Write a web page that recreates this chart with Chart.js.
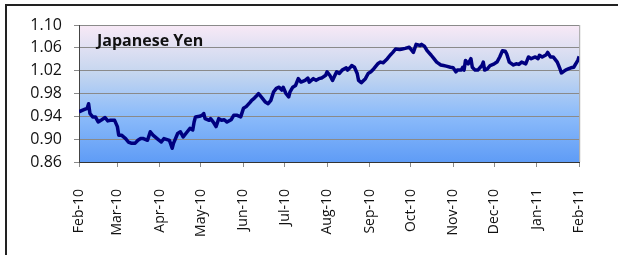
<!DOCTYPE html>
<html>
<head>
<meta charset="utf-8">
<script src="https://cdn.jsdelivr.net/npm/chart.js@4"></script>
<style>
  body { margin: 0; background: #fff; overflow: hidden; }
  #frame { position: absolute; left: 5px; top: 4px; width: 800px; height: 400px; border: 2px solid #222; }
  #yenChart { position: absolute; left: 0; top: 0; }
</style>
</head>
<body>
<div id="frame"></div>
<canvas id="yenChart" width="618" height="255"></canvas>
<script>
// hari sejak 1 Feb 2010 dan nilai kurs
var days = [0, 4, 6, 7, 8, 10, 12, 14, 16, 19, 21, 23, 26, 28, 29, 31, 34, 36, 38, 41, 43, 45, 47, 50, 52, 54, 57, 60, 62,
  66, 68, 69, 72, 74, 76, 79, 81, 83, 84, 85, 88, 90, 91, 92, 95, 96, 98, 100, 102, 104, 106, 108, 111, 113, 115, 118, 120, 122, 125,
  126, 128, 130, 131, 134, 136, 138, 140, 142, 144, 146, 148, 149, 151, 153, 154, 156, 158, 160, 162, 165, 167, 168, 171, 173, 175, 177, 180, 181, 183,
  185, 188, 190, 192, 195, 196, 198, 199, 201, 203, 204, 206, 209, 211, 213, 215, 218, 220, 222, 225, 227, 229, 231, 234, 236, 238, 241, 243, 244, 246, 249,
  250, 252, 254, 257, 259, 261, 264, 266, 268, 271, 273, 275, 276, 279, 280, 281, 282, 284, 286, 287, 289, 291, 294, 295, 296, 298, 300, 303, 305, 307, 309, 311,
  312, 314, 317, 319, 321, 323, 326, 328, 330, 333, 335, 336, 338, 341, 342, 344, 346, 349, 351, 352, 355, 357, 359, 361, 364, 365];
var yen = [0.948, 0.952, 0.954, 0.962, 0.945, 0.939, 0.939, 0.930, 0.933, 0.938, 0.932, 0.933, 0.933, 0.922, 0.907, 0.907, 0.901, 0.895, 0.893, 0.893, 0.898, 0.901, 0.901, 0.898, 0.913, 0.907, 0.901, 0.895, 0.901,
  0.898, 0.884, 0.893, 0.910, 0.913, 0.904, 0.913, 0.919, 0.916, 0.930, 0.939, 0.940, 0.942, 0.945, 0.936, 0.933, 0.936, 0.930, 0.922, 0.936, 0.933, 0.934, 0.930, 0.934, 0.942, 0.942, 0.939, 0.954, 0.957, 0.965,
  0.968, 0.972, 0.977, 0.980, 0.971, 0.965, 0.962, 0.968, 0.983, 0.989, 0.991, 0.986, 0.991, 0.980, 0.974, 0.983, 0.991, 0.994, 1.006, 1.000, 1.003, 1.007, 1.000, 1.006, 1.003, 1.006, 1.007, 1.012, 1.018, 1.012,
  1.003, 1.018, 1.015, 1.021, 1.025, 1.021, 1.026, 1.029, 1.026, 1.015, 1.003, 0.999, 1.006, 1.015, 1.018, 1.023, 1.032, 1.035, 1.034, 1.041, 1.047, 1.052, 1.058, 1.057, 1.058, 1.059, 1.061, 1.055, 1.052, 1.066, 1.064,
  1.066, 1.063, 1.055, 1.047, 1.041, 1.035, 1.030, 1.029, 1.028, 1.026, 1.025, 1.018, 1.021, 1.021, 1.026, 1.021, 1.038, 1.032, 1.041, 1.026, 1.021, 1.021, 1.029, 1.035, 1.021, 1.023, 1.029, 1.032, 1.035, 1.044, 1.055, 1.054,
  1.050, 1.035, 1.030, 1.032, 1.031, 1.035, 1.032, 1.044, 1.041, 1.044, 1.041, 1.047, 1.044, 1.048, 1.052, 1.044, 1.044, 1.035, 1.023, 1.016, 1.021, 1.023, 1.025, 1.026, 1.038, 1.045];

// label bulan di sumbu x
var monthDays = [0, 28, 59, 89, 120, 150, 181, 212, 242, 273, 303, 334, 365];
var monthLabels = ['Feb-10', 'Mar-10', 'Apr-10', 'May-10', 'Jun-10', 'Jul-10', 'Aug-10', 'Sep-10', 'Oct-10', 'Nov-10', 'Dec-10', 'Jan-11', 'Feb-11'];
var yTicks = [0.86, 0.90, 0.94, 0.98, 1.02, 1.06, 1.10];

var points = days.map(function (d, i) { return { x: d, y: yen[i] }; });

// latar gradasi + judul di dalam area plot
var plotDeco = {
  id: 'plotDeco',
  beforeDraw: function (chart) {
    var a = chart.chartArea, c = chart.ctx;
    var g = c.createLinearGradient(0, a.top, 0, a.bottom);
    g.addColorStop(0, '#f8e9f6');
    g.addColorStop(0.35, '#c5d6ef');
    g.addColorStop(0.65, '#8dbcfa');
    g.addColorStop(1, '#5f9cf6');
    c.save();
    c.fillStyle = g;
    c.fillRect(a.left, a.top, a.right - a.left, a.bottom - a.top);
    c.restore();
  },
  beforeDatasetsDraw: function (chart) {
    var a = chart.chartArea, c = chart.ctx;
    c.save();
    c.strokeStyle = '#a0a0a0';
    c.lineWidth = 1;
    c.beginPath();
    c.moveTo(a.right + 0.5, a.top);
    c.lineTo(a.right + 0.5, a.bottom);
    c.stroke();
    c.fillStyle = '#111';
    c.font = 'bold 16px "Open Sans"';
    c.textBaseline = 'alphabetic';
    c.fillText('Japanese Yen', a.left + 18, a.top + 21);
    c.restore();
  }
};

var ctx = document.getElementById('yenChart').getContext('2d');
var myChart = new Chart(ctx, {
  type: 'line',
  data: {
    datasets: [{
      label: 'Japanese Yen',
      data: points,
      borderColor: '#000080',
      borderWidth: 3.5,
      borderJoinStyle: 'round',
      pointRadius: 0,
      tension: 0,
      fill: false
    }]
  },
  options: {
    responsive: false,
    animation: false,
    devicePixelRatio: 1,
    layout: { padding: { left: 0, top: 25, right: 9, bottom: 0 } },
    plugins: { legend: { display: false }, tooltip: { enabled: false } },
    scales: {
      x: {
        type: 'linear',
        min: 0,
        max: 365,
        afterBuildTicks: function (s) { s.ticks = monthDays.map(function (v) { return { value: v }; }); },
        afterFit: function (s) { s.height = 93; },
        grid: { drawOnChartArea: false, drawTicks: true, tickLength: 5, color: '#8a8a8a' },
        border: { color: '#333', width: 1 },
        ticks: {
          autoSkip: false,
          minRotation: 90,
          maxRotation: 90,
          padding: 22,
          color: '#111',
          font: { family: 'Open Sans', size: 14 },
          callback: function (v, i) { return monthLabels[i]; }
        }
      },
      y: {
        min: 0.86,
        max: 1.10,
        afterBuildTicks: function (s) { s.ticks = yTicks.map(function (v) { return { value: v }; }); },
        afterFit: function (s) { s.width = 79; },
        grid: { color: '#8a8a8a', tickLength: 5, drawTicks: true },
        border: { color: '#444', width: 1 },
        ticks: {
          padding: 12,
          color: '#111',
          font: { family: 'Open Sans', size: 16 },
          callback: function (v) { return v.toFixed(2); }
        }
      }
    }
  },
  plugins: [plotDeco]
});
</script>
</body>
</html>
